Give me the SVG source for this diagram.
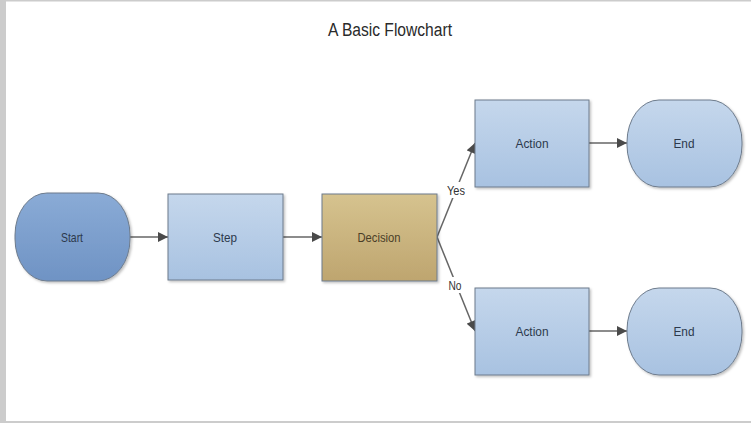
<svg xmlns="http://www.w3.org/2000/svg" width="751" height="423" viewBox="0 0 751 423">
<defs>
<linearGradient id="gStart" x1="0" y1="0" x2="0" y2="1"><stop offset="0" stop-color="#8aabd6"/><stop offset="1" stop-color="#6f93c4"/></linearGradient>
<linearGradient id="gLight" x1="0" y1="0" x2="0" y2="1"><stop offset="0" stop-color="#c5d7ec"/><stop offset="1" stop-color="#a8c2e1"/></linearGradient>
<linearGradient id="gDec" x1="0" y1="0" x2="0" y2="1"><stop offset="0" stop-color="#d6c38f"/><stop offset="1" stop-color="#bea56f"/></linearGradient>
<marker id="arr" viewBox="0 0 10 10" refX="10" refY="5" markerWidth="11" markerHeight="10" markerUnits="userSpaceOnUse" orient="auto"><path d="M0,0 L10,5 L0,10 z" fill="#4a4a4a"/></marker>
<filter id="sh" x="-10%" y="-10%" width="125%" height="125%"><feDropShadow dx="1.5" dy="1.5" stdDeviation="1" flood-color="#000" flood-opacity="0.25"/></filter>
</defs>
<style>
.node{stroke:#6d7b8c;stroke-width:1;filter:url(#sh)}
.lbl{font-family:"Liberation Sans",Arial,sans-serif;font-size:13px;fill:#2c394c;text-anchor:middle;dominant-baseline:central}
.edge{stroke:#666;stroke-width:1.5;fill:none;marker-end:url(#arr)}
.el{font-family:"Liberation Sans",Arial,sans-serif;font-size:13px;fill:#333;text-anchor:middle;dominant-baseline:central}
</style>
<rect x="0" y="0" width="751" height="423" fill="#ffffff"/>
<rect x="0" y="0" width="6" height="423" fill="#cccccc"/>
<rect x="0" y="0" width="751" height="1.5" fill="#cccccc"/>
<rect x="0" y="421" width="751" height="2" fill="#cccccc"/>
<text x="390" y="30" font-family="'Liberation Sans',Arial,sans-serif" font-size="18" fill="#2a2a2a" text-anchor="middle" dominant-baseline="central" textLength="124" lengthAdjust="spacingAndGlyphs">A Basic Flowchart</text>
<g id="connectors">
<line class="edge" x1="130" y1="237" x2="168" y2="237"/>
<line class="edge" x1="283" y1="237" x2="322" y2="237"/>
<line class="edge" x1="437" y1="237" x2="475" y2="143"/>
<line class="edge" x1="437" y1="237" x2="475" y2="331"/>
<line class="edge" x1="589" y1="143" x2="627" y2="143"/>
<line class="edge" x1="589" y1="331" x2="627" y2="331"/>
<rect x="445" y="182" width="21" height="16" fill="#fff"/>
<text class="el" x="456" y="190" textLength="18" lengthAdjust="spacingAndGlyphs">Yes</text>
<rect x="447" y="277" width="16" height="16" fill="#fff"/>
<text class="el" x="455" y="285" textLength="13" lengthAdjust="spacingAndGlyphs">No</text>
</g>
<g id="start"><rect class="node" x="15" y="193" width="115" height="88" rx="32" ry="42" fill="url(#gStart)"/><text class="lbl" x="72" y="237" textLength="22" lengthAdjust="spacingAndGlyphs">Start</text></g>
<g id="step"><rect class="node" x="168" y="194" width="115" height="86" fill="url(#gLight)"/><text class="lbl" x="225" y="237" textLength="24" lengthAdjust="spacingAndGlyphs">Step</text></g>
<g id="decision"><rect class="node" x="322" y="194" width="115" height="87" fill="url(#gDec)"/><text class="lbl" x="379" y="237" style="fill:#4a3e28" textLength="43" lengthAdjust="spacingAndGlyphs">Decision</text></g>
<g id="action1"><rect class="node" x="475" y="100" width="114" height="87" fill="url(#gLight)"/><text class="lbl" x="532" y="143" textLength="33" lengthAdjust="spacingAndGlyphs">Action</text></g>
<g id="end1"><rect class="node" x="627" y="100" width="115" height="87" rx="32" ry="42" fill="url(#gLight)"/><text class="lbl" x="684" y="143" textLength="21" lengthAdjust="spacingAndGlyphs">End</text></g>
<g id="action2"><rect class="node" x="475" y="288" width="114" height="87" fill="url(#gLight)"/><text class="lbl" x="532" y="331" textLength="33" lengthAdjust="spacingAndGlyphs">Action</text></g>
<g id="end2"><rect class="node" x="627" y="288" width="115" height="87" rx="32" ry="42" fill="url(#gLight)"/><text class="lbl" x="684" y="331" textLength="21" lengthAdjust="spacingAndGlyphs">End</text></g>
</svg>
